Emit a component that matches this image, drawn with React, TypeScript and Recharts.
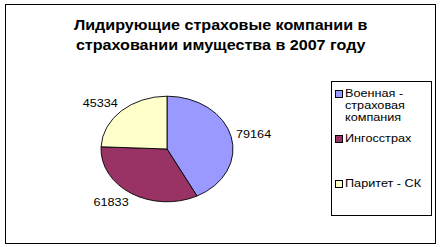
import React from "react";
import { PieChart, Pie, Cell, Legend } from "recharts";

// Leading insurers in property insurance, 2007
const companies = ["Военная - страховая компания", "Ингосстрах", "Паритет - СК"];
const premiums = [79164, 61833, 45334];
const sliceColors = ["#9999FF", "#993366", "#FFFFCC"];

const data = companies.map((name, i) => ({ name, value: premiums[i] }));

const CX = 167;
const CY = 149;
const R = 66;
const SQUASH = 0.8; // vertical flattening of the pie
const FONT = "Arial, 'Liberation Sans', sans-serif";
const WIDEN = 1.15; // horizontally stretched lettering

const RAD = Math.PI / 180;

function renderLabel(props: any) {
  const { midAngle, value } = props;
  const cos = Math.cos(-midAngle * RAD);
  const sin = Math.sin(-midAngle * RAD);
  const x = CX + (R + 5) * cos;
  const y = CY + (R * SQUASH + 11) * sin;
  return (
    <text
      transform={`translate(${x}, ${y}) scale(${WIDEN}, 1)`}
      fill="#000"
      fontSize={11}
      fontFamily={FONT}
      textAnchor={cos >= 0 ? "start" : "end"}
      dominantBaseline="central"
    >
      {value}
    </text>
  );
}

function renderLegend(props: any) {
  const { payload } = props;
  return (
    <div style={{ padding: "5px 0 0 3px", fontFamily: FONT, fontSize: 11 }}>
      {payload.map((entry: any, i: number) => (
        <div key={`item-${i}`} style={{ display: "flex", height: 45, alignItems: "flex-start" }}>
          <span
            style={{
              width: 6,
              height: 6,
              marginTop: 3,
              marginRight: 2,
              background: entry.color,
              border: "1px solid #000",
              flexShrink: 0,
            }}
          />
          <span
            style={{
              lineHeight: "12px",
              width: 70,
              transform: `scaleX(${WIDEN})`,
              transformOrigin: "0 0",
            }}
          >
            {entry.value}
          </span>
        </div>
      ))}
    </div>
  );
}

export default function App() {
  return (
    <div style={{ position: "relative", width: 441, height: 247, background: "#fff" }}>
      <style>{`
        body { margin: 0; }
        .recharts-pie-sector { transform: scaleY(${SQUASH}); transform-origin: ${CX}px ${CY}px; }
      `}</style>
      <div
        style={{
          position: "absolute",
          left: 5,
          top: 4,
          width: 429,
          height: 238,
          border: "1px solid #000",
        }}
      />
      <div
        style={{
          position: "absolute",
          left: 0,
          top: 15,
          width: 441,
          textAlign: "center",
          fontFamily: FONT,
          fontWeight: "bold",
          fontSize: 14,
          lineHeight: "20px",
          transform: `scaleX(${WIDEN})`,
          transformOrigin: "219px 0",
        }}
      >
        Лидирующие страховые компании в
        <br />
        страховании имущества в 2007 году
      </div>
      <div style={{ position: "absolute", left: 0, top: 0 }}>
        <PieChart width={441} height={247} margin={{ top: 0, right: 0, bottom: 0, left: 0 }}>
          <Pie
            data={data}
            dataKey="value"
            nameKey="name"
            cx={CX}
            cy={CY}
            outerRadius={R}
            startAngle={90}
            endAngle={-270}
            stroke="#000"
            strokeWidth={1}
            label={renderLabel}
            labelLine={false}
            isAnimationActive={false}
          >
            {data.map((d, i) => (
              <Cell key={`cell-${i}`} fill={sliceColors[i]} />
            ))}
          </Pie>
          <Legend
            layout="vertical"
            content={renderLegend}
            wrapperStyle={{
              position: "absolute",
              left: 331,
              top: 81,
              width: 99,
              height: 133,
              border: "1px solid #000",
              background: "#fff",
            }}
          />
        </PieChart>
      </div>
    </div>
  );
}
